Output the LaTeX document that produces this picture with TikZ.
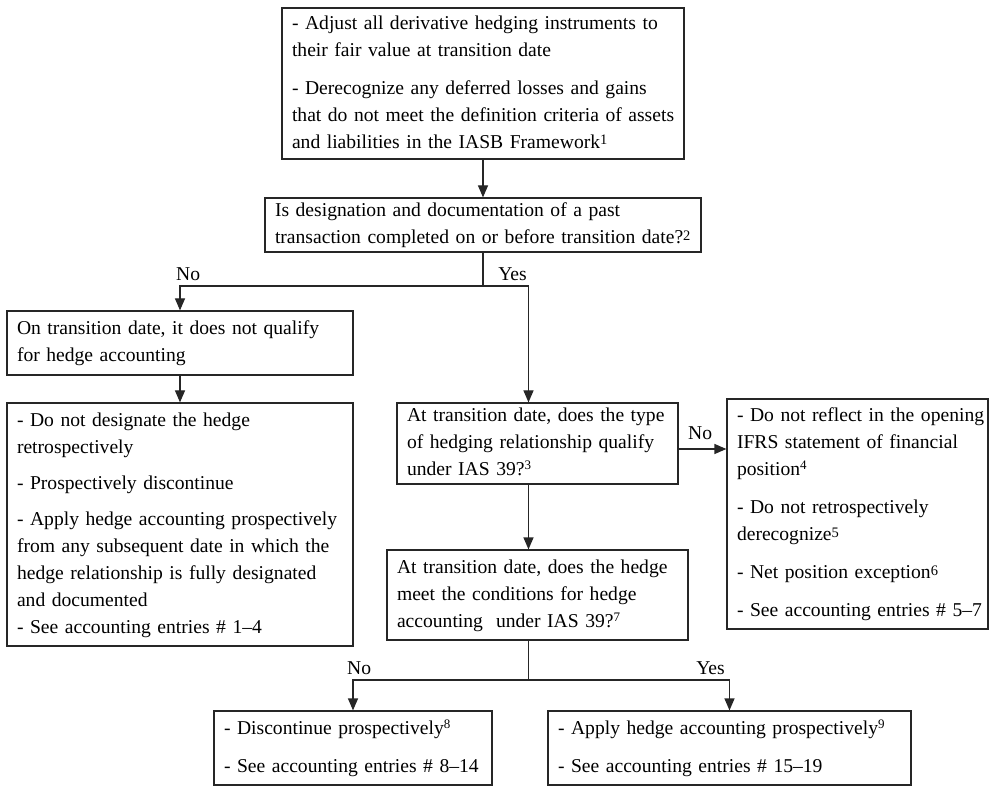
\documentclass[tikz,border=0pt]{standalone}
\usepackage{fontspec}
\setmainfont{Liberation Serif}
\usetikzlibrary{arrows.meta}

% footnote marks: a small high one and a larger, lower one
\newcommand\hisup[1]{\raisebox{0.7ex}{\fontsize{13}{13}\selectfont #1}}
\newcommand\losup[1]{\raisebox{0.42ex}{\fontsize{14.5}{14.5}\selectfont #1}}
% keep every printed line on its own row, never re-broken
\newcommand\lines[1]{\begin{tabular}{@{}l@{}}#1\end{tabular}}

\tikzset{
  flowbox/.style={rectangle, draw=black!85, line width=1.2pt, inner xsep=10pt,
    inner ysep=0pt, align=left, text=black,
    font=\fontsize{19.6}{27}\selectfont},
  link/.style={draw=black!85, line width=1.2pt},
  arr/.style={link, -{Triangle[length=12pt,width=10pt]}},
  tag/.style={inner sep=0pt, text=black, font=\fontsize{19.6}{27}\selectfont},
}

\begin{document}
\begin{tikzpicture}[x=1pt,y=-1pt]
\useasboundingbox (0,0) rectangle (989,786);

% ---- boxes ----
\node[flowbox, minimum width=402pt, text width=382pt, minimum height=151pt] (b1) at (483,83.5)
  {\lines{- Adjust all derivative hedging instruments to\\
          their fair value at transition date\\[11pt]
          - Derecognize any deferred losses and gains\\
          that do not meet the definition criteria of assets\\
          and liabilities in the IASB Framework\losup{1}}};

\node[flowbox, minimum width=436pt, text width=416pt, minimum height=54pt] (b2) at (483,225)
  {\lines{Is designation and documentation of a past\\
          transaction completed on or before transition date?\losup{2}}};

\node[flowbox, minimum width=346pt, text width=326pt, minimum height=64pt] (b3) at (180,343)
  {\lines{On transition date, it does not qualify\\
          for hedge accounting}};

\node[flowbox, minimum width=346pt, text width=326pt, minimum height=243pt] (b4) at (180,524.5)
  {\lines{- Do not designate the hedge\\
          retrospectively\\[9pt]
          - Prospectively discontinue\\[9pt]
          - Apply hedge accounting prospectively\\
          from any subsequent date in which the\\
          hedge relationship is fully designated\\
          and documented\\
          - See accounting entries \# 1–4}};

\node[flowbox, minimum width=281pt, text width=261pt, minimum height=81pt] (b5) at (537.5,443.5)
  {\lines{At transition date, does the type\\
          of hedging relationship qualify\\
          under IAS 39?\hisup{3}}};

\node[flowbox, minimum width=301pt, text width=281pt, minimum height=90pt] (b6) at (537.5,595)
  {\lines{At transition date, does the hedge\\
          meet the conditions for hedge\\
          accounting\ \ under IAS 39?\hisup{7}}};

\node[flowbox, minimum width=261pt, text width=241pt, minimum height=230pt] (b7) at (857.5,514)
  {\lines{- Do not reflect in the opening\\
          IFRS statement of financial\\
          position\hisup{4}\\[11pt]
          - Do not retrospectively\\
          derecognize\losup{5}\\[11pt]
          - Net position exception\losup{6}\\[11pt]
          - See accounting entries \# 5–7}};

\node[flowbox, minimum width=278pt, text width=258pt, minimum height=74pt] (b8) at (353,748)
  {\lines{- Discontinue prospectively\hisup{8}\\[11pt]
          - See accounting entries \# 8–14}};

\node[flowbox, minimum width=363pt, text width=343pt, minimum height=74pt] (b9) at (729.5,748)
  {\lines{- Apply hedge accounting prospectively\hisup{9}\\[11pt]
          - See accounting entries \# 15–19}};

% ---- branch points ----
\coordinate (j1) at (483,286);
\coordinate (yk) at (528.5,286);
\coordinate (j2) at (528.5,680);
\coordinate (ry) at (0,449);

% ---- connectors ----
\draw[arr] (b1.south) -- (b2.north);
\draw[link] (b2.south) -- (j1);
\draw[arr] (j1) -| (b3.north);
\draw[arr] (j1) -- (yk) -- (yk |- b5.north);
\draw[arr] (b3.south) -- (b4.north);
\draw[arr] (b5.east |- ry) -- (b7.west |- ry);
\draw[arr] (yk |- b5.south) -- (yk |- b6.north);
\draw[link] (yk |- b6.south) -- (j2);
\draw[arr] (j2) -| (b8.north);
\draw[arr] (j2) -| (b9.north);

% ---- branch labels ----
\node[tag, anchor=base west] (noA)  at (176,281) {No};
\node[tag, anchor=base east] (yesA) at (527,281) {Yes};
\node[tag, anchor=base west] (noB)  at (688,440) {No};
\node[tag, anchor=base west] (noC)  at (347,674) {No};
\node[tag, anchor=base east] (yesC) at (725,674) {Yes};
\end{tikzpicture}
\end{document}
